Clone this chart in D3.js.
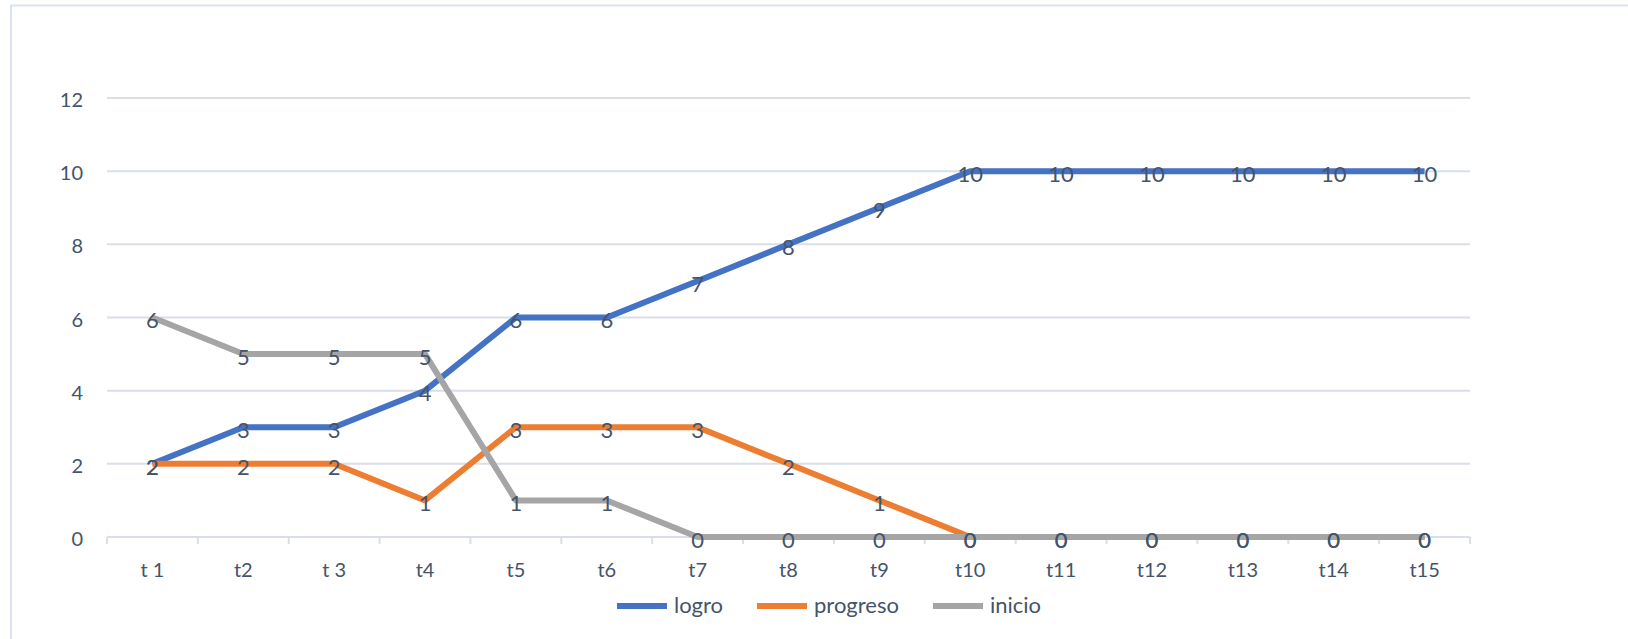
<!DOCTYPE html>
<html>
<head>
<meta charset="utf-8">
<script src="https://cdn.jsdelivr.net/npm/d3@7"></script>
<style>
  html, body { margin: 0; padding: 0; background: #fff; }
  svg { display: block; font-family: Lato, "Open Sans", sans-serif; }
</style>
</head>
<body>
<svg id="chart" width="1628" height="639"></svg>
<script>
const categories = ['t 1', 't2', 't 3', 't4', 't5', 't6', 't7', 't8', 't9', 't10', 't11', 't12', 't13', 't14', 't15'];
const logro    = [2, 3, 3, 4, 6, 6, 7, 8, 9, 10, 10, 10, 10, 10, 10];
const progreso = [2, 2, 2, 1, 3, 3, 3, 2, 1, 0, 0, 0, 0, 0, 0];
const inicio   = [6, 5, 5, 5, 1, 1, 0, 0, 0, 0, 0, 0, 0, 0, 0];
const yTicks = [0, 2, 4, 6, 8, 10, 12];

const series = [
  { name: 'logro', values: logro, color: '#4472C4' },
  { name: 'progreso', values: progreso, color: '#ED7D31' },
  { name: 'inicio', values: inicio, color: '#A5A5A5' }
];

const textColor = '#44546A';
const gridColor = '#D9DEE8';
const fontSize = '20px';

const svg = d3.select('#chart');

// outer frame (top and left edges visible)
svg.append('path')
  .attr('d', 'M11,639 L11,5.5 L1628,5.5')
  .attr('fill', 'none')
  .attr('stroke', '#DDE3EE')
  .attr('stroke-width', 2);

const plotLeft = 107, plotRight = 1470, plotTop = 98, plotBottom = 537;

const x = d3.scaleBand()
  .domain(categories)
  .range([plotLeft, plotRight]);

const y = d3.scaleLinear()
  .domain([0, 12])
  .range([plotBottom, plotTop]);

// gridlines
svg.append('g')
  .selectAll('line')
  .data(yTicks.filter(d => d !== 0))
  .enter()
  .append('line')
  .attr('x1', plotLeft)
  .attr('x2', plotRight)
  .attr('y1', d => y(d))
  .attr('y2', d => y(d))
  .attr('stroke', gridColor)
  .attr('stroke-width', 2);

// x axis with tick marks between categories
const xAxis = svg.append('g');
xAxis.append('line')
  .attr('x1', plotLeft).attr('x2', plotRight)
  .attr('y1', plotBottom).attr('y2', plotBottom)
  .attr('stroke', gridColor)
  .attr('stroke-width', 2);
xAxis.selectAll('line.tick')
  .data(categories.map(c => x(c)).concat([plotRight]))
  .enter()
  .append('line')
  .attr('class', 'tick')
  .attr('x1', d => d).attr('x2', d => d)
  .attr('y1', plotBottom).attr('y2', plotBottom + 7)
  .attr('stroke', gridColor)
  .attr('stroke-width', 2);
xAxis.selectAll('text')
  .data(categories)
  .enter()
  .append('text')
  .attr('x', d => x(d) + x.bandwidth() / 2)
  .attr('y', 570)
  .attr('text-anchor', 'middle')
  .attr('dy', '0.35em')
  .attr('fill', textColor)
  .style('font-size', fontSize)
  .text(d => d);

// y labels
svg.append('g')
  .selectAll('text')
  .data(yTicks)
  .enter()
  .append('text')
  .attr('x', 83)
  .attr('y', d => y(d) + 2)
  .attr('dy', '0.35em')
  .attr('text-anchor', 'end')
  .attr('fill', textColor)
  .style('font-size', fontSize)
  .text(d => d);

const line = d3.line()
  .x((d, i) => x(categories[i]) + x.bandwidth() / 2)
  .y(d => y(d));

// lines
svg.append('g')
  .selectAll('path')
  .data(series)
  .enter()
  .append('path')
  .attr('d', d => line(d.values))
  .attr('fill', 'none')
  .attr('stroke', d => d.color)
  .attr('stroke-width', 6)
  .attr('stroke-linejoin', 'round');

// data labels
series.forEach(s => {
  svg.append('g')
    .selectAll('text')
    .data(s.values)
    .enter()
    .append('text')
    .attr('x', (d, i) => x(categories[i]) + x.bandwidth() / 2)
    .attr('y', d => y(d) + 3)
    .attr('dy', '0.35em')
    .attr('text-anchor', 'middle')
    .attr('fill', textColor)
    .style('font-size', '22px')
    .text(d => d);
});

// legend
const legendItems = [
  { s: series[0], x: 617 },
  { s: series[1], x: 757 },
  { s: series[2], x: 933 }
];
const legend = svg.append('g')
  .selectAll('g')
  .data(legendItems)
  .enter()
  .append('g')
  .attr('transform', d => `translate(${d.x},606)`);
legend.append('line')
  .attr('x1', 0).attr('x2', 50)
  .attr('stroke', d => d.s.color)
  .attr('stroke-width', 6);
legend.append('text')
  .attr('x', 57)
  .attr('dy', '0.32em')
  .attr('fill', textColor)
  .style('font-size', '22px')
  .text(d => d.s.name);
</script>
</body>
</html>
